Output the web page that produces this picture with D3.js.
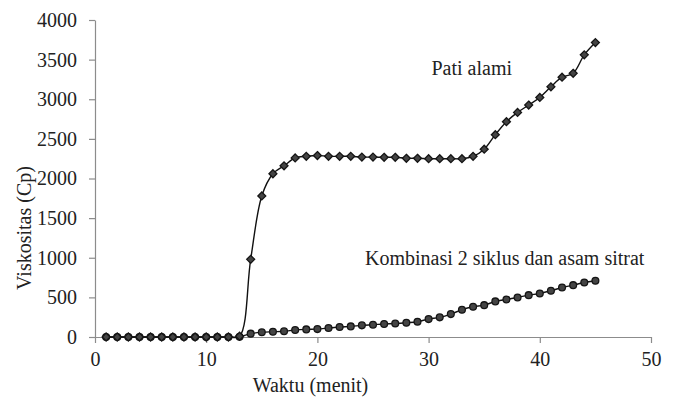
<!DOCTYPE html>
<html>
<head>
<meta charset="utf-8">
<script src="https://cdn.jsdelivr.net/npm/d3@7"></script>
<style>
  html, body { margin: 0; padding: 0; background: #fff; }
  svg text { font-family: "Liberation Serif", "Times New Roman", serif; fill: #222; }
</style>
</head>
<body>
<svg id="chart" width="677" height="398"></svg>
<script>
const minutes = d3.range(1, 46);
const patiAlami = [0,0,0,0,0,0,0,0,0,0,0,0,10,980,1780,2060,2160,2260,2280,2290,2280,2280,2280,2270,2270,2268,2268,2255,2255,2250,2250,2250,2250,2280,2370,2553,2717,2834,2927,3023,3157,3278,3328,3560,3715];
const kombinasi = [0,0,0,0,0,0,0,0,0,0,0,0,2,42,59,66,72,88,96,100,113,126,134,147,155,164,170,180,193,226,248,289,344,381,402,449,474,499,528,549,583,625,654,688,709];
const xTicks = [0,10,20,30,40,50];
const yTicks = [0,500,1000,1500,2000,2500,3000,3500,4000];
const labelPati = "Pati alami";
const labelKomb = "Kombinasi 2 siklus dan asam sitrat";

const svg = d3.select("#chart");
const x = d3.scaleLinear().domain([0, 50]).range([95, 651]);
const y = d3.scaleLinear().domain([0, 4000]).range([337, 20]);
const axisColor = "#8c8c8c";
const fs = "20px";

// X axis
const gx = svg.append("g").attr("transform", `translate(0,${y(0)})`)
  .call(d3.axisBottom(x).tickValues(xTicks).tickFormat(d3.format("d")).tickSize(6).tickPadding(9).tickSizeOuter(0));
// Y axis
const gy = svg.append("g").attr("transform", `translate(${x(0)},0)`)
  .call(d3.axisLeft(y).tickValues(yTicks).tickFormat(d3.format("d")).tickSize(6).tickPadding(12).tickSizeOuter(0));
[gx, gy].forEach(g => {
  g.attr("font-family", null);
  g.select(".domain").attr("stroke", axisColor).attr("stroke-width", 1.2);
  g.selectAll(".tick line").attr("stroke", axisColor).attr("stroke-width", 1.2);
  g.selectAll(".tick text").attr("fill", "#222").style("font-size", fs)
    .style("font-family", '"Liberation Serif", "Times New Roman", serif');
});

// Axis titles
svg.append("text").attr("x", 310.5).attr("y", 392).attr("text-anchor", "middle")
  .style("font-size", fs).text("Waktu (menit)");
svg.append("text").attr("transform", `translate(31,228) rotate(-90)`).attr("text-anchor", "middle")
  .style("font-size", fs).text("Viskositas (Cp)");

const line = d3.line().x(d => x(d[0])).y(d => y(d[1])).curve(d3.curveCatmullRom.alpha(0.5));
const s1 = minutes.map((m, i) => [m, patiAlami[i]]);
const s2 = minutes.map((m, i) => [m, kombinasi[i]]);

svg.append("path").datum(s2).attr("d", line).attr("fill", "none").attr("stroke", "#111").attr("stroke-width", 1.4);
svg.append("path").datum(s1).attr("d", line).attr("fill", "none").attr("stroke", "#111").attr("stroke-width", 1.4);

// circles for kombinasi
svg.append("g").selectAll("circle").data(s2).join("circle")
  .attr("cx", d => x(d[0])).attr("cy", d => y(d[1])).attr("r", 3.4)
  .attr("fill", "#444").attr("stroke", "#151515").attr("stroke-width", 1.3);

// diamonds for pati alami
const diamond = d3.symbol().type(d3.symbolDiamond2).size(40);
svg.append("g").selectAll("path").data(s1).join("path")
  .attr("transform", d => `translate(${x(d[0])},${y(d[1])})`)
  .attr("d", diamond).attr("fill", "#444").attr("stroke", "#151515").attr("stroke-width", 1.3);

// annotations
svg.append("text").attr("x", 431.5).attr("y", 75).style("font-size", fs).text(labelPati);
svg.append("text").attr("x", 365).attr("y", 265).style("font-size", fs).text(labelKomb);
</script>
</body>
</html>
